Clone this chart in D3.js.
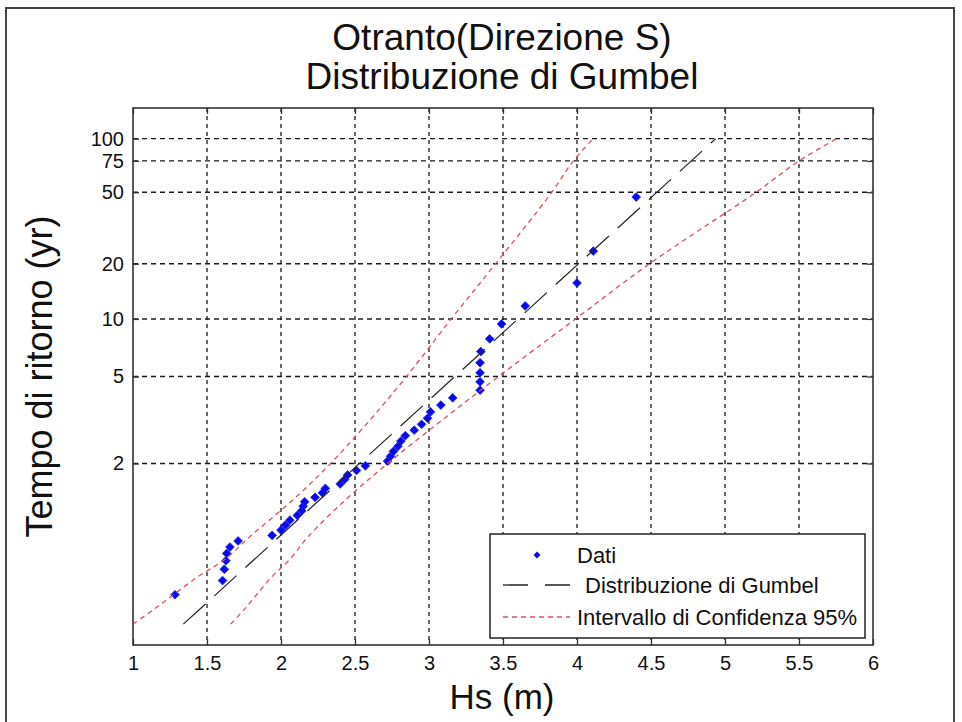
<!DOCTYPE html>
<html><head><meta charset="utf-8">
<script src="https://cdn.jsdelivr.net/npm/d3@7"></script>
<style>
body{margin:0;background:#fff}
svg{display:block}
text{font-family:"Liberation Sans",Arial,Helvetica,sans-serif;fill:#111}
</style>
</head><body>
<svg id="chart" width="962" height="722"></svg>
<script>
// ---------- data ----------
const titleLines = ["Otranto(Direzione S)", "Distribuzione di Gumbel"];
const xLabel = "Hs (m)";
const yLabel = "Tempo di ritorno (yr)";
const xTickValues = [1, 1.5, 2, 2.5, 3, 3.5, 4, 4.5, 5, 5.5, 6];
const yTickLabels = [2, 5, 10, 20, 50, 75, 100];       // return periods (yr)
const legendLabels = ["Dati", "Distribuzione di Gumbel", "Intervallo di Confidenza 95%"];

// observed data: Hs (m) and return period (yr)
const dataHs = [1.284, 1.605, 1.617, 1.628, 1.633, 1.655, 1.71, 1.94, 2.00, 2.03,
                2.06, 2.11, 2.14, 2.15, 2.16, 2.23, 2.28, 2.30, 2.40, 2.43,
                2.45, 2.51, 2.57, 2.72, 2.74, 2.76, 2.79, 2.81, 2.84, 2.90,
                2.95, 2.99, 3.01, 3.08, 3.16, 3.345, 3.345, 3.345, 3.345, 3.35,
                3.41, 3.49, 3.65, 4.00, 4.11, 4.40];
const dataT  = [1.022, 1.043, 1.068, 1.093, 1.119, 1.146, 1.175, 1.205, 1.237, 1.270,
                1.306, 1.343, 1.382, 1.424, 1.469, 1.516, 1.567, 1.621, 1.679, 1.741,
                1.808, 1.880, 1.958, 2.043, 2.136, 2.238, 2.350, 2.474, 2.611, 2.765,
                2.938, 3.133, 3.357, 3.615, 3.917, 4.273, 4.700, 5.222, 5.875, 6.714,
                7.833, 9.400, 11.75, 15.67, 23.50, 47.0];

// fitted Gumbel line
const gumbelHs = [1.34, 4.937];
const gumbelT  = [1.0036, 100];

// 95% confidence band
const ciT       = [1.0036, 1.01, 1.05, 1.1, 1.2, 1.5, 2, 3, 5, 10, 20, 50, 75, 100];
const ciUpperHs = [1.00, 1.145, 1.436, 1.627, 1.792, 2.089, 2.335, 2.588, 2.848, 3.15, 3.45, 3.83, 3.975, 4.11];
const ciLowerHs = [1.66, 1.755, 1.937, 2.064, 2.185, 2.444, 2.72, 3.07, 3.47, 3.99, 4.49, 5.21, 5.50, 5.755];

// ---------- helpers ----------
const gumbelVar = T => -Math.log(-Math.log(1 - 1 / T)); // reduced variate

const svg = d3.select("#chart");
const W = 962, H = 722;
const L = 133, R = 873, T0 = 108, B = 645;

const x = d3.scaleLinear().domain([1, 6]).range([L, R]);
const y = d3.scaleLinear().domain([-2, 5]).range([B, T0]);

svg.append("rect").attr("width", W).attr("height", H).attr("fill", "#fff");
// figure frame
svg.append("rect").attr("x", 6).attr("y", 8).attr("width", 948).attr("height", 730)
   .attr("fill", "none").attr("stroke", "#444").attr("stroke-width", 2);

svg.append("defs").append("clipPath").attr("id", "clip")
   .append("rect").attr("x", L).attr("y", T0).attr("width", R - L).attr("height", B - T0);

// ---------- grid ----------
const grid = svg.append("g");
grid.selectAll("line.v").data(xTickValues.slice(1, -1)).join("line")
  .attr("x1", d => x(d)).attr("x2", d => x(d)).attr("y1", T0).attr("y2", B)
  .attr("stroke", "#2a2a2a").attr("stroke-width", 1.4).attr("stroke-dasharray", "4,4");
grid.selectAll("line.h").data(yTickLabels).join("line")
  .attr("x1", L).attr("x2", R).attr("y1", d => y(gumbelVar(d))).attr("y2", d => y(gumbelVar(d)))
  .attr("stroke", "#1a1a1a").attr("stroke-width", 1.4).attr("stroke-dasharray", "5,4");

// ---------- axes ----------
const yTickPos = yTickLabels.map(gumbelVar);
const axB = svg.append("g").attr("transform", `translate(0,${B})`)
  .call(d3.axisBottom(x).tickValues(xTickValues).tickSize(-6).tickPadding(11).tickFormat(d3.format("")));
const axT = svg.append("g").attr("transform", `translate(0,${T0})`)
  .call(d3.axisTop(x).tickValues(xTickValues).tickSize(-6).tickFormat(""));
const axL = svg.append("g").attr("transform", `translate(${L},0)`)
  .call(d3.axisLeft(y).tickValues(yTickPos).tickSize(-6).tickPadding(9)
        .tickFormat((d, i) => yTickLabels[i]));
const axR = svg.append("g").attr("transform", `translate(${R},0)`)
  .call(d3.axisRight(y).tickValues(yTickPos).tickSize(-6).tickFormat(""));
[axB, axT, axL, axR].forEach(a => {
  a.select(".domain").remove();
  a.selectAll(".tick line").attr("stroke", "#333").attr("stroke-width", 1.3);
  a.selectAll(".tick text").attr("font-size", 20).attr("fill", "#2a2a2a")
   .attr("font-family", '"Liberation Sans", Arial, sans-serif');
});
svg.append("rect").attr("x", L).attr("y", T0).attr("width", R - L).attr("height", B - T0)
  .attr("fill", "none").attr("stroke", "#333").attr("stroke-width", 1.6);

// ---------- marks ----------
const plot = svg.append("g").attr("clip-path", "url(#clip)");
const diamond = d3.symbol().type(d3.symbolSquare).size(38);
plot.selectAll("path.pt").data(dataHs).join("path")
  .attr("d", diamond)
  .attr("transform", (d, i) => `translate(${x(d)},${y(gumbelVar(dataT[i]))}) rotate(45)`)
  .attr("fill", "#0a0ae8").attr("stroke", "#2020ff").attr("stroke-width", 0.8);

const lineGen = d3.line().x(d => x(d[0])).y(d => y(gumbelVar(d[1])));
plot.append("path").datum(gumbelHs.map((h, i) => [h, gumbelT[i]]))
  .attr("d", lineGen).attr("fill", "none").attr("stroke", "#222")
  .attr("stroke-width", 1.2).attr("stroke-dasharray", "30,12");

const curveGen = d3.line().x(d => x(d[0])).y(d => y(gumbelVar(d[1]))).curve(d3.curveCatmullRom);
[ciUpperHs, ciLowerHs].forEach(arr => {
  plot.append("path").datum(arr.map((h, i) => [h, ciT[i]]))
    .attr("d", curveGen).attr("fill", "none").attr("stroke", "#e04f5c")
    .attr("stroke-width", 1.3).attr("stroke-dasharray", "5,4");
});

// ---------- titles ----------
svg.append("text").attr("x", 502).attr("y", 50).attr("text-anchor", "middle")
  .attr("font-size", 37).text(titleLines[0]);
svg.append("text").attr("x", 502).attr("y", 89).attr("text-anchor", "middle")
  .attr("font-size", 37).text(titleLines[1]);
svg.append("text").attr("x", 502).attr("y", 709).attr("text-anchor", "middle")
  .attr("font-size", 35).text(xLabel);
svg.append("text").attr("transform", `translate(52,${(T0 + B) / 2}) rotate(-90)`)
  .attr("text-anchor", "middle").attr("font-size", 36).text(yLabel);

// ---------- legend ----------
const lg = svg.append("g");
lg.append("rect").attr("x", 490).attr("y", 534).attr("width", 375).attr("height", 104)
  .attr("fill", "#fff").attr("stroke", "#222").attr("stroke-width", 1.5);
lg.append("path").attr("d", d3.symbol().type(d3.symbolSquare).size(24))
  .attr("transform", "translate(537,555) rotate(45)").attr("fill", "#0a0ae8");
lg.append("line").attr("x1", 503).attr("x2", 570).attr("y1", 585).attr("y2", 585)
  .attr("stroke", "#222").attr("stroke-width", 1.3).attr("stroke-dasharray", "25,17");
lg.append("line").attr("x1", 503).attr("x2", 570).attr("y1", 617).attr("y2", 617)
  .attr("stroke", "#e04f5c").attr("stroke-width", 1.3).attr("stroke-dasharray", "5,4");
lg.append("text").attr("x", 577).attr("y", 563).attr("font-size", 22).text(legendLabels[0]);
lg.append("text").attr("x", 585).attr("y", 593).attr("font-size", 22).text(legendLabels[1]);
lg.append("text").attr("x", 577).attr("y", 625).attr("font-size", 22).text(legendLabels[2]);
</script>
</body></html>
